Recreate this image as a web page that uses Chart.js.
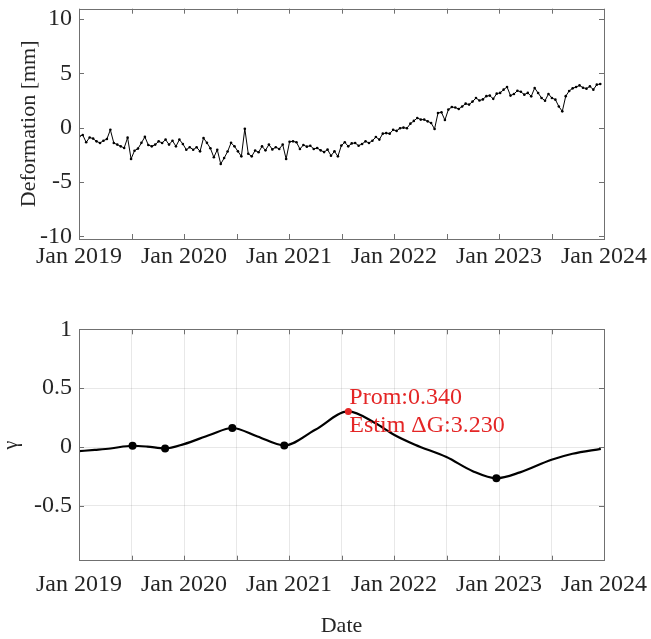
<!DOCTYPE html>
<html>
<head>
<meta charset="utf-8">
<script src="https://cdn.jsdelivr.net/npm/chart.js@4.4.1/dist/chart.umd.min.js"></script>
<style>
html, body { margin: 0; padding: 0; background: #fff; }
#wrap { position: relative; width: 651px; height: 639px; }
canvas { position: absolute; left: 0; }
#defChart { top: 0; }
#gammaChart { top: 290px; }
</style>
</head>
<body>
<div id="wrap">
  <canvas id="defChart" width="651" height="290"></canvas>
  <canvas id="gammaChart" width="651" height="349"></canvas>
</div>
<script>
// acquisitions: one every 12 days from early Jan 2019
const acqStart = '2019-01-02';
const acqStepDays = 12;
const deformation = [
  -0.80, -0.68, -1.35, -0.90, -1.01, -1.26, -1.41, -1.20, -1.05, -0.20,
  -1.41, -1.56, -1.72, -1.87, -0.92, -2.88, -2.12, -1.93, -1.40, -0.85,
  -1.60, -1.72, -1.56, -1.26, -1.41, -1.10, -1.56, -1.20, -1.72, -1.10,
  -1.50, -2.03, -1.80, -2.03, -1.81, -2.18, -0.95, -1.40, -1.90, -2.73,
  -2.03, -3.34, -2.80, -2.20, -1.40, -1.72, -2.18, -2.64, -0.10, -2.40,
  -2.64, -2.10, -2.27, -1.72, -2.09, -1.56, -2.00, -1.80, -1.96, -1.56,
  -2.88, -1.30, -1.26, -1.35, -1.96, -1.60, -1.75, -1.66, -1.96, -1.87,
  -2.09, -2.25, -2.02, -2.58, -2.18, -2.64, -1.65, -1.35, -1.72, -1.45,
  -1.41, -1.66, -1.50, -1.26, -1.41, -1.20, -0.86, -1.10, -0.55, -0.50,
  -0.55, -0.20, -0.30, -0.05, 0.00, -0.05, 0.37, 0.62, 0.89, 0.74,
  0.74, 0.58, 0.43, -0.12, 1.35, 1.41, 0.70, 1.66, 1.90, 1.85,
  1.72, 1.95, 2.21, 2.12, 2.40, 2.73, 2.50, 2.60, 2.90, 2.95,
  2.65, 3.13, 3.20, 3.50, 3.74, 2.95, 3.10, 3.40, 3.30, 3.04,
  3.20, 2.88, 3.65, 3.19, 2.73, 2.48, 3.10, 2.73, 2.58, 1.95,
  1.50, 2.90, 3.38, 3.62, 3.74, 3.89, 3.68, 3.59, 3.80, 3.50,
  3.96, 4.02
];

// gamma curve (decimal years)
const gammaYears = [2019.0, 2019.15, 2019.3, 2019.51, 2019.65, 2019.82, 2020.0, 2020.25, 2020.46,
  2020.7, 2020.955, 2021.25, 2021.565, 2021.82, 2022.0, 2022.2, 2022.5, 2022.75, 2022.975,
  2023.2, 2023.5, 2023.7, 2023.97];
const gammaValues = [-0.035, -0.024, -0.012, 0.011, 0.004, -0.012, 0.025, 0.105, 0.162,
  0.09, 0.014, 0.147, 0.303, 0.204, 0.105, 0.02, -0.085, -0.205, -0.265,
  -0.215, -0.108, -0.057, -0.015];
const extremaYears = [2019.51, 2019.82, 2020.46, 2020.955, 2022.975];
const extremaValues = [0.011, -0.012, 0.162, 0.014, -0.265];
const promYears = [2021.565];
const promValues = [0.303];
const promText = ['Prom:0.340', 'Estim \u0394G:3.230'];

const xTicks = [2019, 2020, 2021, 2022, 2023, 2024];

function toDecimalYear(d) {
  const y = d.getUTCFullYear();
  const start = Date.UTC(y, 0, 1);
  const end = Date.UTC(y + 1, 0, 1);
  return y + (d.getTime() - start) / (end - start);
}

const t0 = new Date(acqStart + 'T00:00:00Z').getTime();
const defPoints = deformation.map((v, i) => ({
  x: toDecimalYear(new Date(t0 + i * acqStepDays * 86400000)),
  y: v
}));

Chart.defaults.font.family = "'Liberation Serif', 'Times New Roman', serif";
Chart.defaults.color = '#262626';

const RED = 'rgb(228, 38, 38)';

// matlab style box with inward ticks
const boxTicks = {
  id: 'boxTicks',
  afterDraw(chart) {
    const {ctx, chartArea: a, scales} = chart;
    const L = 5;
    ctx.save();
    ctx.strokeStyle = '#707070';
    ctx.lineWidth = 1;
    ctx.beginPath();
    scales.x.ticks.forEach(t => {
      const px = Math.round(scales.x.getPixelForValue(t.value)) + 0.5;
      ctx.moveTo(px, a.bottom); ctx.lineTo(px, a.bottom - L);
      ctx.moveTo(px, a.top); ctx.lineTo(px, a.top + L);
    });
    scales.y.ticks.forEach(t => {
      const py = Math.round(scales.y.getPixelForValue(t.value)) + 0.5;
      ctx.moveTo(a.left, py); ctx.lineTo(a.left + L, py);
      ctx.moveTo(a.right, py); ctx.lineTo(a.right - L, py);
    });
    ctx.stroke();
    ctx.strokeRect(Math.round(a.left) + 0.5, Math.round(a.top) + 0.5,
      Math.round(a.right - a.left), Math.round(a.bottom - a.top));
    ctx.restore();
  }
};

const promLabel = {
  id: 'promLabel',
  afterDatasetsDraw(chart) {
    const {ctx, scales: {x, y}} = chart;
    const px = x.getPixelForValue(promYears[0]);
    const py = y.getPixelForValue(promValues[0]);
    ctx.save();
    ctx.fillStyle = RED;
    ctx.font = "24px 'Liberation Serif', 'Times New Roman', serif";
    ctx.textAlign = 'left';
    ctx.textBaseline = 'middle';
    ctx.fillText(promText[0], px + 1, py - 14);
    ctx.fillText(promText[1], px + 1, py + 14);
    ctx.restore();
  }
};

function yearLabel(v) {
  return xTicks.includes(v) ? 'Jan ' + v : '';
}

new Chart(document.getElementById('defChart').getContext('2d'), {
  type: 'line',
  data: {
    datasets: [{
      data: defPoints,
      borderColor: '#000',
      borderWidth: 1,
      pointRadius: 1.3,
      pointBackgroundColor: '#000',
      pointBorderWidth: 0,
      tension: 0
    }]
  },
  options: {
    responsive: false,
    animation: false,
    events: [],
    layout: { padding: { top: 8.7, right: 47, left: 0, bottom: 0 } },
    plugins: { legend: { display: false }, tooltip: { enabled: false } },
    scales: {
      x: {
        type: 'linear',
        min: 2019,
        max: 2024,
        grid: { display: false, drawTicks: false },
        border: { display: false },
        ticks: {
          stepSize: 0.5,
          autoSkip: false,
          maxRotation: 0,
          padding: 3,
          font: { size: 24 },
          callback: yearLabel
        },
        afterFit: s => { s.height = 51; s.paddingLeft = 0; s.paddingRight = 0; }
      },
      y: {
        min: -10.25,
        max: 10.95,
        grid: { display: false, drawTicks: false },
        border: { display: false },
        ticks: { stepSize: 5, includeBounds: false, padding: 7, font: { size: 24 }, callback: v => String(v) },
        title: {
          display: true,
          text: 'Deformation [mm]',
          font: { size: 22 },
          padding: { top: 16, bottom: 0 }
        },
        afterFit: s => { s.width = 79; s.paddingTop = 0; s.paddingBottom = 0; }
      }
    }
  },
  plugins: [boxTicks]
});

new Chart(document.getElementById('gammaChart').getContext('2d'), {
  type: 'line',
  data: {
    datasets: [{
      data: promYears.map((x, i) => ({ x: x, y: promValues[i] })),
      showLine: false,
      pointRadius: 3.5,
      pointBackgroundColor: RED,
      pointBorderWidth: 0,
      order: 0
    }, {
      data: extremaYears.map((x, i) => ({ x: x, y: extremaValues[i] })),
      showLine: false,
      pointRadius: 4,
      pointBackgroundColor: '#000',
      pointBorderWidth: 0,
      order: 1
    }, {
      data: gammaYears.map((x, i) => ({ x: x, y: gammaValues[i] })),
      borderColor: '#000',
      borderWidth: 2.2,
      pointRadius: 0,
      cubicInterpolationMode: 'monotone',
      order: 2
    }]
  },
  options: {
    responsive: false,
    animation: false,
    events: [],
    layout: { padding: { top: 39.3, right: 47, left: 0, bottom: 0 } },
    plugins: { legend: { display: false }, tooltip: { enabled: false } },
    scales: {
      x: {
        type: 'linear',
        min: 2019,
        max: 2024,
        grid: { display: true, drawTicks: false, color: 'rgba(0, 0, 0, 0.09)' },
        border: { display: false },
        ticks: {
          stepSize: 0.5,
          autoSkip: false,
          maxRotation: 0,
          padding: 9.5,
          font: { size: 24 },
          callback: yearLabel
        },
        title: {
          display: true,
          text: 'Date',
          font: { size: 22 },
          padding: { top: 0, bottom: 0 }
        },
        afterFit: s => { s.height = 78.3; s.paddingLeft = 0; s.paddingRight = 0; }
      },
      y: {
        min: -0.965,
        max: 1,
        grid: { display: true, drawTicks: false, color: 'rgba(0, 0, 0, 0.09)' },
        border: { display: false },
        ticks: { stepSize: 0.5, includeBounds: false, padding: 7, font: { size: 24 }, callback: v => String(v) },
        title: {
          display: true,
          text: '\u03b3',
          font: { size: 20 },
          padding: { top: 0, bottom: 0 }
        },
        afterFit: s => { s.width = 79; s.paddingTop = 0; s.paddingBottom = 0; }
      }
    }
  },
  plugins: [boxTicks, promLabel]
});
</script>
</body>
</html>
